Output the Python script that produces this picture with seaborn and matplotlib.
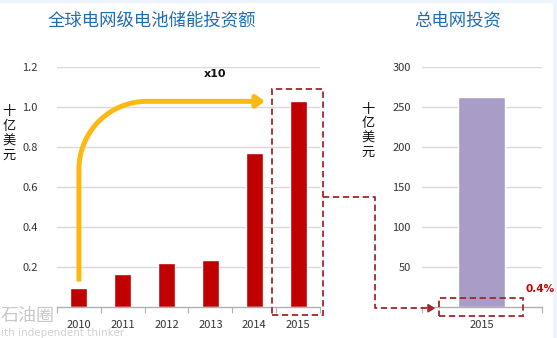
import matplotlib
matplotlib.use("Agg")
import matplotlib.pyplot as plt
import seaborn as sns
import pandas as pd
from matplotlib.path import Path
from matplotlib.patches import FancyArrowPatch, Rectangle
from matplotlib.lines import Line2D
from matplotlib.ticker import FixedLocator

# Grid-scale battery storage investment (billion USD)
years = ["2010", "2011", "2012", "2013", "2014", "2015"]
storage = [0.095, 0.163, 0.22, 0.235, 0.77, 1.03]

# Total grid investment (billion USD)
grid_year = ["2015"]
grid_total = [262]

share_label = "0.4%"
growth_label = "x10"
title_left = "全球电网级电池储能投资额"
title_right = "总电网投资"
unit_label = "十亿美元"

sns.set_theme(style="white")
plt.rcParams["font.family"] = ["Noto Sans CJK SC", "DejaVu Sans"]

W, H = 557, 338
fig = plt.figure(figsize=(W / 100, H / 100), dpi=100)
fig.patch.set_facecolor("#edf4fb")
fig.add_artist(Rectangle((0, 0), 553 / W, 335 / H, transform=fig.transFigure,
                         facecolor="white", edgecolor="none", zorder=-10))


def px_axes(x0, y0, x1, y1):
    return fig.add_axes([x0 / W, 1 - y1 / H, (x1 - x0) / W, (y1 - y0) / H])


tick_color = "#333333"
grid_color = "#d9d9d9"
dash_color = "#a3262a"
bar_red = "#c00000"

# ---- left panel ----
ax1 = px_axes(57, 66.7, 320, 307)
df1 = pd.DataFrame({"year": years, "value": storage})
sns.barplot(data=df1, x="year", y="value", color=bar_red, saturation=1,
            width=0.39, ax=ax1)
ax1.set_xlim(-0.5, 5.5)
ax1.set_ylim(0, 1.2)
ax1.set_yticks([0.2, 0.4, 0.6, 0.8, 1.0, 1.2])
ax1.set_yticklabels(["0.2", "0.4", "0.6", "0.8", "1.0", "1.2"])
ax1.yaxis.grid(True, color=grid_color, linewidth=1)
ax1.set_axisbelow(True)

# ---- right panel ----
ax2 = px_axes(421.7, 66.7, 541.7, 307)
df2 = pd.DataFrame({"year": grid_year, "value": grid_total})
sns.barplot(data=df2, x="year", y="value", color="#a99cc7", saturation=1,
            width=0.39, ax=ax2)
ax2.set_xlim(-0.5, 0.5)
ax2.set_ylim(0, 300)
ax2.set_yticks([50, 100, 150, 200, 250, 300])
ax2.yaxis.grid(True, color=grid_color, linewidth=1)
ax2.set_axisbelow(True)

for ax, pad in ((ax1, 14), (ax2, 8)):
    for s in ("top", "right", "left"):
        ax.spines[s].set_visible(False)
    ax.spines["bottom"].set_color("#b0b0b0")
    ax.spines["bottom"].set_linewidth(1)
    ax.set_xlabel("")
    ax.set_ylabel("")
    ax.tick_params(axis="y", length=0, pad=pad, labelsize=8, labelcolor=tick_color)
    ax.tick_params(axis="x", which="major", length=0, pad=9, labelsize=8,
                   labelcolor=tick_color)
    n = len(ax.get_xticks())
    ax.xaxis.set_minor_locator(FixedLocator([i - 0.5 for i in range(n + 1)]))
    ax.tick_params(axis="x", which="minor", bottom=True, length=4,
                   width=0.8, color="#b0b0b0", direction="out")

# unit labels, one character per line
for cx, cy0 in ((9, 112), (368, 109)):
    for i, ch in enumerate(unit_label):
        fig.text(cx / W, 1 - (cy0 + 14.5 * i) / H, ch, ha="center",
                 va="center", fontsize=9.5, color="#111111")

# titles
title_color = "#1f6db5"
fig.text(152 / W, 1 - 20 / H, title_left, ha="center", va="center",
         fontsize=12.5, color=title_color)
fig.text(458 / W, 1 - 20 / H, title_right, ha="center", va="center",
         fontsize=12.5, color=title_color)

# growth arrow from the 2010 bar up and across to the 2015 level
x0, y0 = 0, 0.127
yh = 1.027
rx, ry = 1.55, 0.34
k = 0.5523
x_end = 4.25
verts = [(x0, y0), (x0, yh - ry),
         (x0, yh - ry + k * ry), (x0 + rx - k * rx, yh), (x0 + rx, yh),
         (x_end, yh)]
codes = [Path.MOVETO, Path.LINETO, Path.CURVE4, Path.CURVE4, Path.CURVE4,
         Path.LINETO]
arrow = FancyArrowPatch(path=Path(verts, codes),
                        arrowstyle="-|>,head_length=5,head_width=3.5",
                        color="#fdb913", linewidth=3.6, joinstyle="round",
                        capstyle="butt", transform=ax1.transData,
                        clip_on=False, zorder=5)
ax1.add_patch(arrow)
ax1.text(3.1, 1.165, growth_label, ha="center", va="center", fontsize=8,
         fontweight="bold", color="#111111", family="DejaVu Sans")

# dashed highlight around the 2015 bar
dash_kw = dict(edgecolor=dash_color, facecolor="none", linewidth=1.3,
               linestyle=(0, (3.5, 2)), clip_on=False, zorder=6)
box_big = Rectangle((4.40, -0.04), 1.16, 1.13, transform=ax1.transData, **dash_kw)
ax1.add_patch(box_big)
box_small = Rectangle((-0.356, -11.6), 0.698, 22.5, transform=ax2.transData, **dash_kw)
ax2.add_patch(box_small)
ax2.text(0.49, 22, share_label, ha="center", va="center", fontsize=7.5,
         fontweight="bold", color=bar_red, family="DejaVu Sans", clip_on=False)

# dashed connector from the big box to the small box
fig.canvas.draw()
to_fig = fig.transFigure.inverted()
bx, by = to_fig.transform(ax1.transData.transform((5.56, 0.55)))
sx, sy = to_fig.transform(ax2.transData.transform((-0.356, -1.5)))
mx = 375 / W
fig.add_artist(Line2D([bx, mx, mx, sx - 8 / W], [by, by, sy, sy],
                      transform=fig.transFigure, color=dash_color,
                      linewidth=1.3, linestyle=(0, (3.5, 2)), zorder=6))
fig.add_artist(FancyArrowPatch((sx - 10 / W, sy), (sx - 1 / W, sy),
                               transform=fig.transFigure,
                               arrowstyle="-|>,head_length=4,head_width=2.5",
                               color=dash_color, linewidth=1.2, zorder=6))

# watermark
fig.text(1 / W, 1 - 316 / H, "石油圈", ha="left", va="center", fontsize=13,
         color="#c8c8c8", zorder=0)
fig.text(1 / W, 1 - 333.5 / H, "ith independent thinker", ha="left",
         va="center", fontsize=7.5, color="#d2d2d2", family="DejaVu Sans", zorder=0)

fig.savefig("out.png", dpi=100)
